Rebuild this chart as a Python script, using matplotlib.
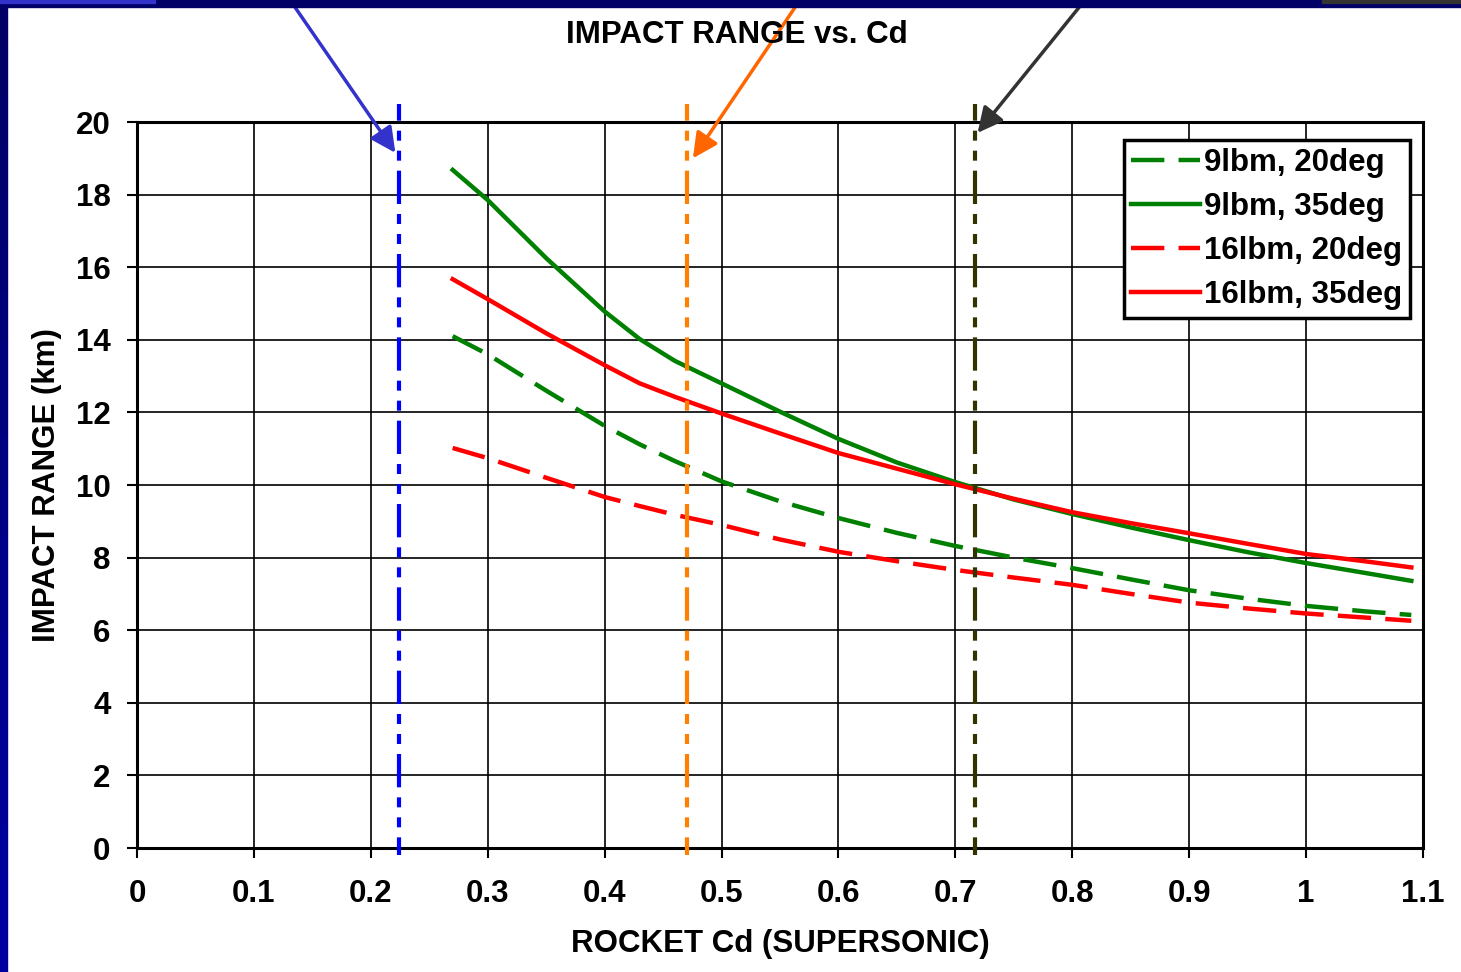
import matplotlib
matplotlib.use("Agg")
import matplotlib.pyplot as plt
from matplotlib.patches import Rectangle

plt.rcParams['font.family'] = ['Liberation Sans', 'DejaVu Sans']
plt.rcParams['font.weight'] = 'bold'

# rocket Cd (supersonic) and impact range in km
cd = [0.27, 0.30, 0.35, 0.40, 0.43, 0.46, 0.50, 0.55, 0.60, 0.65,
      0.70, 0.75, 0.80, 0.85, 0.90, 0.95, 1.00, 1.05, 1.09]
r9_20 = [14.10, 13.60, 12.60, 11.63, 11.12, 10.66, 10.10, 9.55, 9.09, 8.68,
         8.32, 8.00, 7.71, 7.40, 7.10, 6.87, 6.67, 6.52, 6.42]
r9_35 = [18.68, 17.85, 16.25, 14.78, 14.02, 13.42, 12.80, 12.02, 11.27, 10.62,
         10.08, 9.60, 9.20, 8.83, 8.48, 8.15, 7.85, 7.58, 7.36]
r16_20 = [11.02, 10.74, 10.20, 9.67, 9.42, 9.18, 8.90, 8.50, 8.16, 7.90,
          7.66, 7.45, 7.25, 7.00, 6.76, 6.60, 6.46, 6.35, 6.26]
r16_35 = [15.67, 15.12, 14.18, 13.30, 12.80, 12.43, 11.97, 11.42, 10.88, 10.45,
          10.02, 9.62, 9.25, 8.95, 8.67, 8.38, 8.10, 7.90, 7.73]

# reference Cd values marked with vertical lines
marks = [0.224, 0.4705, 0.717]
mark_colors = ['#0000FF', '#FF8000', '#333300']
arrow_colors = ['#3333CC', '#FF6600', '#333333']
arrow_start_x = [290, 800, 1085]   # figure pixels at the top edge
arrow_tip_y = [19.15, 19.0, 19.7]
arrow_tip_dx = [-0.003, 0.005, 0.002]

xticks = [0, 0.1, 0.2, 0.3, 0.4, 0.5, 0.6, 0.7, 0.8, 0.9, 1.0, 1.1]
xlabels = ['0', '0.1', '0.2', '0.3', '0.4', '0.5', '0.6', '0.7', '0.8', '0.9', '1', '1.1']
yticks = list(range(0, 21, 2))

fs = 22.5

fig = plt.figure(figsize=(14.61, 9.72), dpi=100)
W, H = 1461, 972

# slide border decoration
for i in range(20):
    c0 = (0, 0, 0.40 + 0.23 * i / 19)
    fig.patches.append(Rectangle((0, 1 - (i + 1) / 20), 7 / W, 1 / 20, transform=fig.transFigure,
                                 color=c0, zorder=0))
fig.patches.append(Rectangle((0, 1 - 7 / H), 1, 7 / H, transform=fig.transFigure,
                             color='#000066', zorder=0))
fig.patches.append(Rectangle((0, 1 - 3 / H), 155 / W, 3 / H, transform=fig.transFigure,
                             color='#3333CC', zorder=0))
fig.patches.append(Rectangle((1322 / W, 1 - 3 / H), 1 - 1322 / W, 3 / H, transform=fig.transFigure,
                             color='#333333', zorder=0))

ax = fig.add_axes([137 / W, 1 - 848 / H, (1423 - 137) / W, (848 - 122) / H])

dash = (0, (7.5, 3.2))
ax.plot(cd, r9_20, color='#008000', lw=3.2, linestyle=dash, label='9lbm, 20deg')
ax.plot(cd, r9_35, color='#008000', lw=3.2, label='9lbm, 35deg')
ax.plot(cd, r16_20, color='#FF0000', lw=3.2, linestyle=dash, label='16lbm, 20deg')
ax.plot(cd, r16_35, color='#FF0000', lw=3.2, label='16lbm, 35deg')

# vertical markers drawn top-down so the dash pattern starts at the top
for m, c in zip(marks, mark_colors):
    ax.plot([m, m], [1.025, -0.01], transform=ax.get_xaxis_transform(), color=c, lw=3,
            clip_on=False, linestyle=(4, (8, 2.4, 2.4, 2.4, 2.4, 2.4)), zorder=4)

for m, c, sx, ty, dx in zip(marks, arrow_colors, arrow_start_x, arrow_tip_y, arrow_tip_dx):
    ax.annotate('', xy=(m + dx, ty), xycoords='data',
                xytext=(sx, H), textcoords='figure pixels',
                arrowprops=dict(arrowstyle='-|>', color=c, lw=2.5, mutation_scale=38,
                                shrinkA=0, shrinkB=0),
                annotation_clip=False, zorder=5)

ax.set_xlim(0, 1.1)
ax.set_ylim(0, 20)
ax.set_xticks(xticks)
ax.set_xticklabels(xlabels)
ax.set_yticks(yticks)
ax.tick_params(axis='x', direction='out', length=7, width=1.5, pad=15, labelsize=fs)
ax.tick_params(axis='y', direction='out', length=7, width=1.5, pad=12, labelsize=fs)
ax.grid(True, color='black', lw=1.2)
ax.set_axisbelow(True)
for s in ax.spines.values():
    s.set_linewidth(2.2)

ax.set_xlabel('ROCKET Cd (SUPERSONIC)', fontsize=fs, fontweight='bold', labelpad=15)
ax.set_ylabel('IMPACT RANGE (km)', fontsize=fs, fontweight='bold', labelpad=10)
fig.text(737 / W, 1 - 35 / H, 'IMPACT RANGE vs. Cd', fontsize=fs, fontweight='bold',
         ha='center', va='center')

leg = ax.legend(loc='upper right', bbox_to_anchor=(0.99, 0.975), fontsize=fs,
                handlelength=2.2, handletextpad=0.13, labelspacing=0.45,
                borderpad=0.25, fancybox=False, framealpha=1, edgecolor='black',
                borderaxespad=0)
leg.get_frame().set_linewidth(2.5)

fig.savefig('out.png', dpi=100, facecolor='white')
